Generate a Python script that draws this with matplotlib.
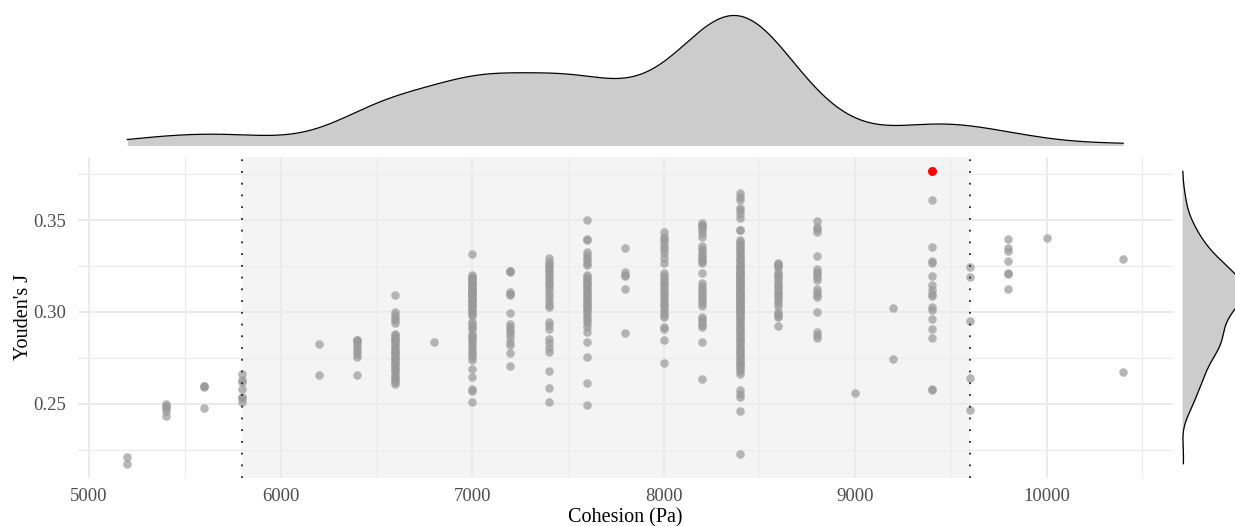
import numpy as np
import matplotlib.pyplot as plt

plt.rcParams['font.family'] = ['Liberation Serif', 'DejaVu Serif']

# cohesion levels (Pa) and Youden's J values read per level
levels = [5200, 5400, 5600, 5800, 6200, 6400, 6600, 6800, 7000, 7200, 7400, 7600, 7800,
          8000, 8200, 8400, 8600, 8800, 9000, 9200, 9400, 9600, 9800, 10000, 10400]

j5200 = [0.221, 0.2175]
j5400 = [0.250, 0.249, 0.248, 0.246, 0.2435]
j5600 = [0.260, 0.2595, 0.259, 0.248]
j5800 = [0.2665, 0.263, 0.262, 0.258, 0.254, 0.253, 0.251]
j6200 = [0.2825, 0.2655]
j6400 = [0.285, 0.2845, 0.2835, 0.282, 0.2805, 0.279, 0.277, 0.2755, 0.266]
j6600 = [0.309, 0.300, 0.2985, 0.297, 0.2955, 0.294, 0.288, 0.2875, 0.2865, 0.2855,
         0.2845, 0.284, 0.283, 0.282, 0.281, 0.280, 0.279, 0.278, 0.2775, 0.2765,
         0.2755, 0.275, 0.274, 0.273, 0.272, 0.271, 0.270, 0.269, 0.2685, 0.2675,
         0.266, 0.2645, 0.264, 0.263, 0.262, 0.261]
j6800 = [0.2835]
j7000 = [0.3315, 0.320, 0.319, 0.3185, 0.318, 0.317, 0.316, 0.3155, 0.315, 0.314,
         0.313, 0.3125, 0.312, 0.311, 0.310, 0.3095, 0.309, 0.308, 0.307, 0.3065,
         0.306, 0.305, 0.304, 0.303, 0.302, 0.301, 0.300, 0.299, 0.298, 0.2945,
         0.2935, 0.292, 0.291, 0.288, 0.287, 0.286, 0.2845, 0.283, 0.2815, 0.280,
         0.2785, 0.277, 0.2755, 0.274, 0.269, 0.2645, 0.258, 0.257, 0.251, 0.3105]
j7200 = [0.3225, 0.322, 0.311, 0.310, 0.309, 0.2995, 0.2935, 0.292, 0.290, 0.2885,
         0.2865, 0.2835, 0.282, 0.2775, 0.2705, 0.3225]
j7400 = [0.3295, 0.327, 0.326, 0.325, 0.324, 0.3225, 0.321, 0.3195, 0.318, 0.3165,
         0.315, 0.3135, 0.312, 0.310, 0.308, 0.306, 0.304, 0.3025, 0.2945, 0.293,
         0.291, 0.2855, 0.283, 0.2805, 0.2785, 0.268, 0.2585, 0.251]
j7600 = [0.350, 0.3395, 0.339, 0.3325, 0.331, 0.3295, 0.328, 0.3265, 0.3255, 0.320,
         0.319, 0.318, 0.317, 0.316, 0.315, 0.314, 0.313, 0.312, 0.311, 0.310,
         0.309, 0.308, 0.307, 0.306, 0.305, 0.304, 0.303, 0.302, 0.301, 0.300,
         0.2985, 0.297, 0.2955, 0.294, 0.292, 0.289, 0.2835, 0.2755, 0.2615, 0.2495]
j7800 = [0.335, 0.3215, 0.3195, 0.3125, 0.2885, 0.320]
j8000 = [0.3435, 0.341, 0.3395, 0.338, 0.336, 0.334, 0.332, 0.3295, 0.3265, 0.321,
         0.3195, 0.318, 0.3165, 0.315, 0.3135, 0.312, 0.3105, 0.309, 0.3075, 0.306,
         0.3045, 0.303, 0.3015, 0.300, 0.2985, 0.2975, 0.292, 0.2905, 0.2845, 0.2725]
j8200 = [0.3485, 0.3475, 0.346, 0.3445, 0.343, 0.341, 0.336, 0.3345, 0.333, 0.331,
         0.329, 0.3275, 0.3265, 0.321, 0.3155, 0.314, 0.3125, 0.311, 0.3095, 0.308,
         0.3065, 0.305, 0.3035, 0.2975, 0.296, 0.2945, 0.293, 0.292, 0.2835, 0.2635,
         0.3465, 0.3305]
j8400 = [0.3645, 0.3625, 0.361, 0.3565, 0.3555, 0.3535, 0.351, 0.3445, 0.3445,
         0.339, 0.338, 0.337, 0.336, 0.335, 0.334, 0.333, 0.332, 0.331, 0.330,
         0.329, 0.328, 0.327, 0.326, 0.325, 0.3245, 0.324, 0.323, 0.322, 0.3215,
         0.321, 0.320, 0.3195, 0.319, 0.318, 0.3175, 0.317, 0.316, 0.3155, 0.315,
         0.314, 0.3135, 0.313, 0.312, 0.3115, 0.311, 0.310, 0.3095, 0.309, 0.308,
         0.3075, 0.307, 0.306, 0.3055, 0.305, 0.304, 0.3035, 0.303, 0.302, 0.3015,
         0.301, 0.300, 0.2995, 0.299, 0.298, 0.297, 0.296, 0.295, 0.294, 0.293,
         0.292, 0.291, 0.290, 0.289, 0.288, 0.287, 0.286, 0.285, 0.284, 0.283,
         0.282, 0.281, 0.280, 0.279, 0.278, 0.277, 0.276, 0.275, 0.274, 0.273,
         0.272, 0.271, 0.270, 0.269, 0.268, 0.2665,
         0.2575, 0.2555, 0.254, 0.246, 0.2225]
j8600 = [0.3265, 0.326, 0.325, 0.3245, 0.322, 0.3205, 0.3195, 0.3185, 0.317, 0.315,
         0.314, 0.313, 0.3115, 0.310, 0.309, 0.308, 0.3065, 0.305, 0.3035, 0.300,
         0.299, 0.298, 0.2975, 0.2925]
j8800 = [0.3495, 0.346, 0.345, 0.3435, 0.3305, 0.3235, 0.322, 0.3205, 0.319, 0.3175,
         0.3125, 0.311, 0.3095, 0.308, 0.300, 0.289, 0.2875, 0.286]
j9000 = [0.256]
j9200 = [0.302, 0.2745]
j9400 = [0.361, 0.3355, 0.3275, 0.3265, 0.3195, 0.3145, 0.312, 0.310, 0.3085,
         0.3025, 0.301, 0.296, 0.291, 0.286, 0.258, 0.2575]
j9600 = [0.3245, 0.319, 0.295, 0.264, 0.2465]
j9800 = [0.3395, 0.335, 0.333, 0.3275, 0.321, 0.3205, 0.3125]
j10000 = [0.340]
j10400 = [0.329, 0.2675]

columns = [j5200, j5400, j5600, j5800, j6200, j6400, j6600, j6800, j7000, j7200, j7400,
           j7600, j7800, j8000, j8200, j8400, j8600, j8800, j9000, j9200, j9400, j9600,
           j9800, j10000, j10400]

# best run, highlighted in red
best_x = [9400]
best_y = [0.3765]

# shaded range with dotted limits
range_lo, range_hi = 5800, 9600

x = np.concatenate([[lv] * len(c) for lv, c in zip(levels, columns)]).astype(float)
y = np.concatenate([np.array(c) for c in columns])
x_all = np.concatenate([x, best_x])
y_all = np.concatenate([y, best_y])


def bw_nrd0(v):
    sd = np.std(v, ddof=1)
    q75, q25 = np.percentile(v, [75, 25])
    lo = min(sd, (q75 - q25) / 1.34)
    return 0.9 * lo * len(v) ** -0.2


def density(v, grid):
    bw = bw_nrd0(v)
    z = (grid[:, None] - v[None, :]) / bw
    return np.exp(-0.5 * z ** 2).sum(axis=1) / (len(v) * bw * np.sqrt(2 * np.pi))


W, H = 1235, 526
fig = plt.figure(figsize=(W / 100, H / 100), dpi=100)

left, right = 77.5, 1173
top, bottom = 156.7, 478.3
ax = fig.add_axes([left / W, (H - bottom) / H, (right - left) / W, (bottom - top) / H])
ax_top = fig.add_axes([left / W, (H - 152) / H, (right - left) / W, 143 / H])
ax_right = fig.add_axes([1179 / W, (H - bottom) / H, 68 / W, (bottom - top) / H])

xr = x_all.max() - x_all.min()
yr = y_all.max() - y_all.min()
xlim = (x_all.min() - 0.05 * xr, x_all.max() + 0.05 * xr)
ylim = (y_all.min() - 0.05 * yr, y_all.max() + 0.05 * yr)

# main panel
ax.axvspan(range_lo, range_hi, color='#F4F4F4', lw=0, zorder=0.1)
ax.set_xticks([5000, 6000, 7000, 8000, 9000, 10000])
ax.set_xticks([5500, 6500, 7500, 8500, 9500, 10500], minor=True)
ax.set_yticks([0.25, 0.30, 0.35])
ax.set_yticks([0.225, 0.275, 0.325, 0.375], minor=True)
ax.set_yticklabels(['0.25', '0.30', '0.35'])
ax.grid(which='major', color='#EBEBEB', lw=1.4)
ax.grid(which='minor', color='#EBEBEB', lw=0.8)
ax.set_axisbelow(True)
ax.scatter(x, y, s=38, color='#999999', alpha=0.7, linewidths=0, zorder=2)
ax.scatter(best_x, best_y, s=42, color='#FF0000', linewidths=0, zorder=3)
for xv in (range_lo, range_hi):
    ax.axvline(xv, color='#222222', lw=1.3, ls=(0, (1, 5.5)), zorder=2.5)
ax.set_xlim(xlim)
ax.set_ylim(ylim)
for s in ax.spines.values():
    s.set_visible(False)
ax.tick_params(which='both', length=0, labelsize=13.5, labelcolor='#4D4D4D')
ax.tick_params(axis='x', pad=7)
ax.tick_params(axis='y', pad=8)
ax.set_xlabel('Cohesion (Pa)', fontsize=14.5)
ax.set_ylabel("Youden's J", fontsize=14.5)
ax.xaxis.set_label_coords(0.5, -(508 - bottom) / (bottom - top))
ax.yaxis.set_label_coords(-(left - 33.5) / (right - left), 0.5)

# top marginal density of cohesion
gx = np.linspace(x_all.min(), x_all.max(), 512)
dx = density(x_all, gx)
ax_top.fill_between(gx, 0, dx, color='#CCCCCC', lw=0)
ax_top.plot(gx, dx, color='black', lw=0.9)
ax_top.set_xlim(xlim)
ax_top.set_ylim(-0.05 * dx.max(), 1.05 * dx.max())
ax_top.axis('off')

# right marginal density of Youden's J
gy = np.linspace(y_all.min(), y_all.max(), 512)
dy = density(y_all, gy)
ax_right.fill_betweenx(gy, 0, dy, color='#CCCCCC', lw=0)
ax_right.plot(dy, gy, color='black', lw=0.9)
ax_right.set_ylim(ylim)
ax_right.set_xlim(-0.05 * dy.max(), 1.05 * dy.max())
ax_right.axis('off')

fig.savefig('out.png', dpi=100)
